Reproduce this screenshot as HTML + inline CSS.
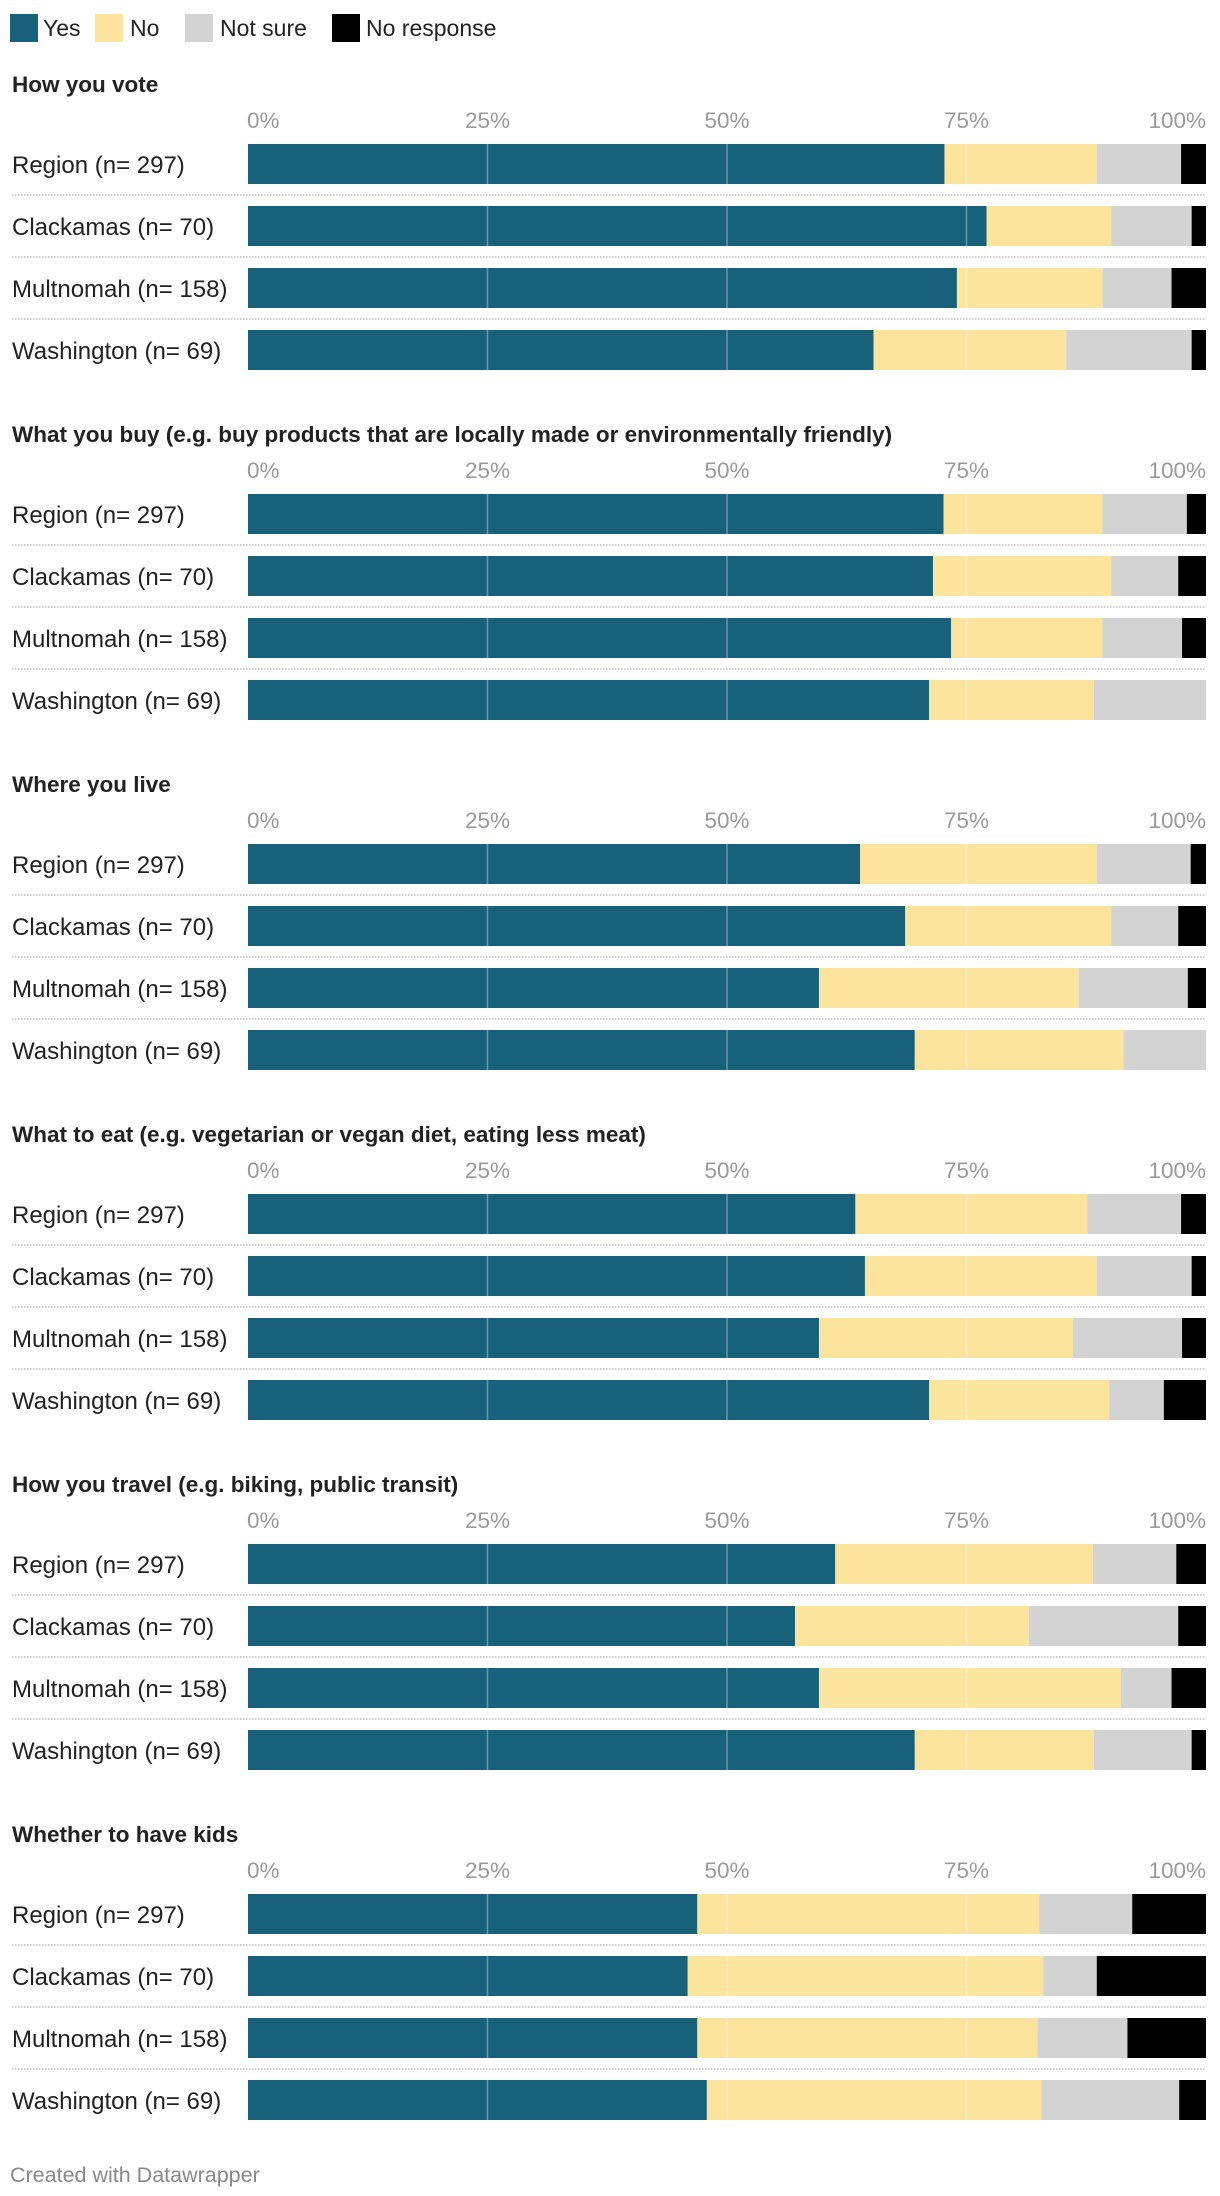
<!DOCTYPE html>
<html><head><meta charset="utf-8"><style>
body{margin:0;background:#fff;width:1220px;height:2196px;overflow:hidden;font-family:"Liberation Sans",sans-serif}
svg{display:block}
</style></head><body>
<svg id="chart" width="1220" height="2196" viewBox="0 0 1220 2196" font-family="Liberation Sans, sans-serif">
<g>
<rect x="10" y="14" width="28" height="28" fill="#17617b"/>
<text x="43" y="36" font-size="23" fill="#222">Yes</text>
<rect x="95" y="14" width="28" height="28" fill="#fde49c"/>
<text x="130" y="36" font-size="23" fill="#222">No</text>
<rect x="185" y="14" width="28" height="28" fill="#d3d3d3"/>
<text x="220" y="36" font-size="23" fill="#222">Not sure</text>
<rect x="332" y="14" width="28" height="28" fill="#000"/>
<text x="366" y="36" font-size="23" fill="#222">No response</text>
</g>
<text x="10" y="2182" font-size="21.5" fill="#888">Created with Datawrapper</text>
</svg>
<script>
const sections = ["How you vote","What you buy (e.g. buy products that are locally made or environmentally friendly)","Where you live","What to eat (e.g. vegetarian or vegan diet, eating less meat)","How you travel (e.g. biking, public transit)","Whether to have kids"];
const rows = ["Region (n= 297)","Clackamas (n= 70)","Multnomah (n= 158)","Washington (n= 69)"];
const seriesNames = ["Yes","No","Not sure","No response"];
const yesVals = [[72.7,77.1,74.0,65.3],[72.6,71.5,73.4,71.1],[63.9,68.6,59.6,69.6],[63.4,64.4,59.6,71.1],[61.3,57.1,59.6,69.6],[46.9,45.9,46.9,47.9]];
const noVals = [[15.9,13.0,15.2,20.1],[16.6,18.6,15.8,17.2],[24.7,21.5,27.1,21.8],[24.2,24.2,26.5,18.8],[26.9,24.4,31.5,18.7],[35.7,37.1,35.5,34.9]];
const notSureVals = [[8.8,8.4,7.2,13.1],[8.8,7.0,8.3,11.7],[9.8,7.0,11.4,8.6],[9.8,9.9,11.4,5.7],[8.7,15.6,5.3,10.2],[9.7,5.6,9.4,14.4]];
const noRespVals = [[2.6,1.5,3.6,1.5],[2.0,2.9,2.5,0],[1.6,2.9,1.9,0],[2.6,1.5,2.5,4.4],[3.1,2.9,3.6,1.5],[7.7,11.4,8.2,2.8]];
const ticks = [0,25,50,75,100];
const tickLabels = ["0%","25%","50%","75%","100%"];

const NS="http://www.w3.org/2000/svg";
const svg=document.getElementById('chart');
const X0=248, W=958;
const xs=v=>X0+v/100*W;
const colors=["#17617b","#fde49c","#d3d3d3","#000000"];
const slug=s=>s.toLowerCase().replace(/[^a-z0-9]+/g,'-').replace(/^-|-$/g,'');
function mk(tag,attrs,parent){const e=document.createElementNS(NS,tag);for(const k in attrs)e.setAttribute(k,attrs[k]);parent.appendChild(e);return e;}
sections.forEach((title,si)=>{
  const oy=si*350;
  const g=mk('g',{},svg);
  
  
  const t=mk('text',{x:12,y:oy+92,'font-size':22.5,'font-weight':'bold',fill:'#222'},g);
  
  
  t.textContent=title;
  ticks.forEach((tv,ti)=>{
    const anchor=ti===0?'start':(ti===ticks.length-1?'end':'middle');
    const tl=mk('text',{x:xs(tv)+(ti===0?-1:0),y:oy+128,'font-size':22.5,fill:'#9a9a9a','text-anchor':anchor},g);
    
    
    tl.textContent=tickLabels[ti];
  });
  const vals=[yesVals[si],noVals[si],notSureVals[si],noRespVals[si]];
  rows.forEach((r,ri)=>{
    const by=oy+144+ri*62;
    const lab=mk('text',{x:12,y:by+29,'font-size':24,fill:'#222'},g);
    
    
    lab.textContent=r;
    let acc=0;
    vals.forEach((sv,k)=>{
      const v=sv[ri];
      if(v>0){
        const rc=mk('rect',{x:xs(acc),y:by,width:xs(acc+v)-xs(acc),height:40,fill:colors[k]},g);
        
        
      }
      acc+=v;
    });
    [25,50,75].forEach(gv=>{
      const gl=mk('line',{x1:xs(gv),x2:xs(gv),y1:by,y2:by+40,stroke:'rgba(255,255,255,0.35)','stroke-width':1.5},g);
      
      
    });
    if(ri<rows.length-1){
      const sp=mk('line',{x1:12,x2:1206,y1:by+51,y2:by+51,stroke:'#d0d0d0','stroke-width':2,'stroke-dasharray':'1.5,1.5'},g);
      
      
    }
  });
});
</script>
</body></html>
